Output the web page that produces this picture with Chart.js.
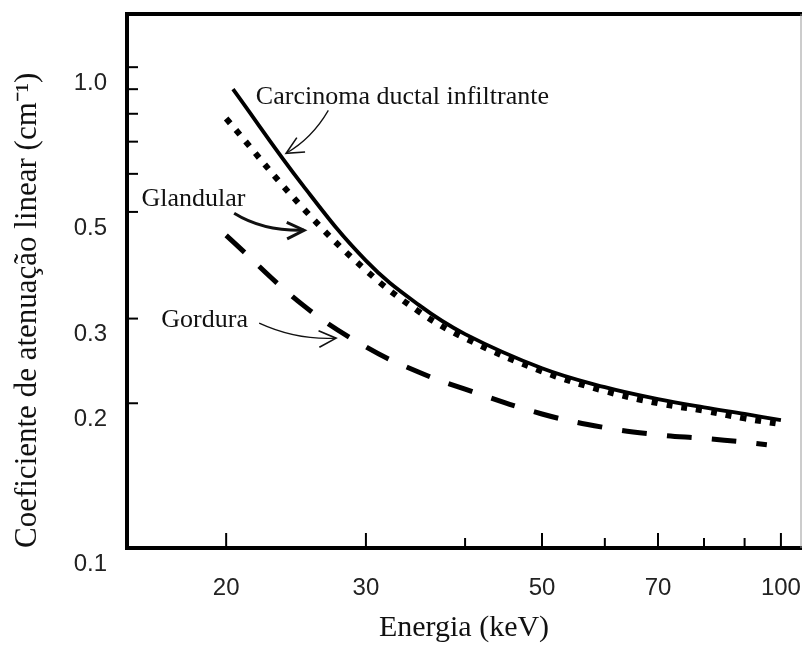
<!DOCTYPE html>
<html>
<head>
<meta charset="utf-8">
<script src="https://cdn.jsdelivr.net/npm/chart.js@4.4.0/dist/chart.umd.min.js"></script>
<style>
  html, body { margin: 0; padding: 0; background: #fff; }
  #chart { display: block; }
</style>
</head>
<body>
<canvas id="chart" width="802" height="653"></canvas>
<script>
// energies (keV) and linear attenuation (cm^-1)
var carcinomaEnergy = [20.4, 25, 30, 35, 40, 50, 60, 70, 80, 90, 100];
var carcinomaMu = [0.90, 0.567, 0.396, 0.320, 0.2785, 0.2365, 0.216, 0.204, 0.196, 0.190, 0.1845];

var glandularEnergy = [20, 25, 30, 35, 40, 50, 60, 70, 80, 90, 100];
var glandularMu = [0.782, 0.509, 0.378, 0.310, 0.273, 0.233, 0.212, 0.200, 0.193, 0.186, 0.181];

var gorduraEnergy = [20, 25, 30, 35, 40, 50, 60, 70, 80, 90, 96];
var gorduraMu = [0.447, 0.320, 0.262, 0.232, 0.214, 0.190, 0.178, 0.172, 0.169, 0.166, 0.164];

var xTicks = [20, 30, 40, 50, 60, 70, 80, 90, 100];
var xTickLabels = ['20', '30', '', '50', '', '70', '', '', '100'];
var yTicks = [0.1, 0.2, 0.3, 0.5, 0.6, 0.7, 0.8, 0.9, 1.0];
var yTickLabels = ['0.1', '0.2', '0.3', '0.5', '', '', '', '', '1.0'];

// labels with their arrows, in data units (keV, cm^-1)
var notes = [
  { text: 'Carcinoma ductal infiltrante', at: [21.8, 0.865],
    from: [26.9, 0.813], ctrl: [25.66, 0.711], to: [23.8, 0.662], lw: 1.3 },
  { text: 'Glandular', at: [15.64, 0.531],
    from: [20.47, 0.497], ctrl: [22.26, 0.456], to: [25.07, 0.458], lw: 3 },
  { text: 'Gordura', at: [16.57, 0.298],
    from: [22.01, 0.2935], ctrl: [24.5, 0.2705], to: [27.51, 0.2731], lw: 1.3 }
];

function pairs(xs, ys) {
  return xs.map(function (x, i) { return { x: x, y: ys[i] }; });
}

var serif = '"Liberation Serif", "Times New Roman", serif';
var sans = '"Liberation Sans", Arial, sans-serif';

var framePlugin = {
  id: 'frame',
  afterDraw: function (chart) {
    var ctx = chart.ctx;
    var a = chart.chartArea;
    var xs = chart.scales.x, ys = chart.scales.y;
    ctx.save();
    ctx.strokeStyle = '#000';
    ctx.lineCap = 'butt';

    // inward tick marks
    ctx.lineWidth = 2;
    xTicks.forEach(function (v, i) {
      var px = xs.getPixelForValue(v);
      var len = xTickLabels[i] ? 15 : 10;
      ctx.beginPath();
      ctx.moveTo(px, a.bottom);
      ctx.lineTo(px, a.bottom - len);
      ctx.stroke();
    });
    yTicks.forEach(function (v) {
      var py = ys.getPixelForValue(v);
      ctx.beginPath();
      ctx.moveTo(a.left, py);
      ctx.lineTo(a.left + 11, py);
      ctx.stroke();
    });

    // frame: heavy left, bottom and top, light right
    ctx.lineWidth = 4;
    ctx.beginPath();
    ctx.moveTo(a.right + 1, a.top);
    ctx.lineTo(a.left, a.top);
    ctx.lineTo(a.left, a.bottom);
    ctx.lineTo(a.right + 1, a.bottom);
    ctx.stroke();
    ctx.strokeStyle = '#999';
    ctx.lineWidth = 1;
    ctx.beginPath();
    ctx.moveTo(a.right, a.top);
    ctx.lineTo(a.right, a.bottom);
    ctx.stroke();

    // curve labels and arrows
    ctx.fillStyle = '#111';
    ctx.strokeStyle = '#111';
    ctx.font = '26px ' + serif;
    ctx.textAlign = 'left';
    ctx.textBaseline = 'middle';
    notes.forEach(function (n) {
      ctx.fillText(n.text, xs.getPixelForValue(n.at[0]), ys.getPixelForValue(n.at[1]));
      var x0 = xs.getPixelForValue(n.from[0]), y0 = ys.getPixelForValue(n.from[1]);
      var cx = xs.getPixelForValue(n.ctrl[0]), cy = ys.getPixelForValue(n.ctrl[1]);
      var x1 = xs.getPixelForValue(n.to[0]), y1 = ys.getPixelForValue(n.to[1]);
      ctx.lineWidth = n.lw;
      ctx.beginPath();
      ctx.moveTo(x0, y0);
      ctx.quadraticCurveTo(cx, cy, x1, y1);
      ctx.stroke();
      var ang = Math.atan2(y1 - cy, x1 - cx);
      var head = 19, spread = 0.45;
      ctx.lineWidth = Math.max(n.lw, 1.6);
      ctx.beginPath();
      ctx.moveTo(x1 - head * Math.cos(ang - spread), y1 - head * Math.sin(ang - spread));
      ctx.lineTo(x1, y1);
      ctx.lineTo(x1 - head * Math.cos(ang + spread), y1 - head * Math.sin(ang + spread));
      ctx.stroke();
    });
    ctx.restore();
  }
};

var ctx = document.getElementById('chart').getContext('2d');
var myChart = new Chart(ctx, {
  type: 'line',
  data: {
    datasets: [
      {
        label: 'Carcinoma ductal infiltrante',
        data: pairs(carcinomaEnergy, carcinomaMu),
        borderColor: '#000',
        borderWidth: 3.8,
        pointRadius: 0,
        tension: 0.4,
        fill: false
      },
      {
        label: 'Glandular',
        data: pairs(glandularEnergy, glandularMu),
        borderColor: '#000',
        borderWidth: 6,
        borderDash: [6, 9],
        borderCapStyle: 'butt',
        pointRadius: 0,
        tension: 0.4,
        fill: false
      },
      {
        label: 'Gordura',
        data: pairs(gorduraEnergy, gorduraMu),
        borderColor: '#000',
        borderWidth: 5,
        borderDash: [25, 20],
        borderCapStyle: 'butt',
        pointRadius: 0,
        tension: 0.4,
        fill: false
      }
    ]
  },
  options: {
    responsive: false,
    animation: false,
    layout: { padding: { top: 14, right: 1, left: 0, bottom: 0 } },
    plugins: {
      legend: { display: false },
      tooltip: { enabled: false }
    },
    scales: {
      x: {
        type: 'logarithmic',
        min: 15,
        max: 106,
        grid: { display: false, drawTicks: false },
        border: { display: false },
        afterBuildTicks: function (scale) {
          scale.ticks = xTicks.map(function (v) { return { value: v }; });
        },
        afterFit: function (scale) {
          scale.height = 105;
          scale.paddingLeft = 0;
          scale.paddingRight = 0;
        },
        ticks: {
          autoSkip: false,
          maxRotation: 0,
          padding: 26,
          color: '#222',
          font: { family: sans, size: 24 },
          callback: function (value, index) { return xTickLabels[index]; }
        },
        title: {
          display: true,
          text: 'Energia (keV)',
          color: '#111',
          font: { family: serif, size: 30 },
          padding: { top: 0, bottom: 7 }
        }
      },
      y: {
        type: 'logarithmic',
        min: 0.1,
        max: 1.29,
        grid: { display: false, drawTicks: false },
        border: { display: false },
        afterBuildTicks: function (scale) {
          scale.ticks = yTicks.map(function (v) { return { value: v }; });
        },
        afterFit: function (scale) {
          scale.width = 127;
          scale.paddingTop = 0;
          scale.paddingBottom = 0;
        },
        ticks: {
          autoSkip: false,
          padding: 20,
          labelOffset: 16,
          color: '#222',
          font: { family: sans, size: 24 },
          callback: function (value, index) { return yTickLabels[index]; }
        },
        title: {
          display: true,
          align: 'start',
          text: 'Coeficiente de atenuação linear (cm⁻¹)',
          color: '#111',
          font: { family: serif, size: 31 },
          padding: { top: 9, bottom: 0 }
        }
      }
    }
  },
  plugins: [framePlugin]
});
</script>
</body>
</html>
